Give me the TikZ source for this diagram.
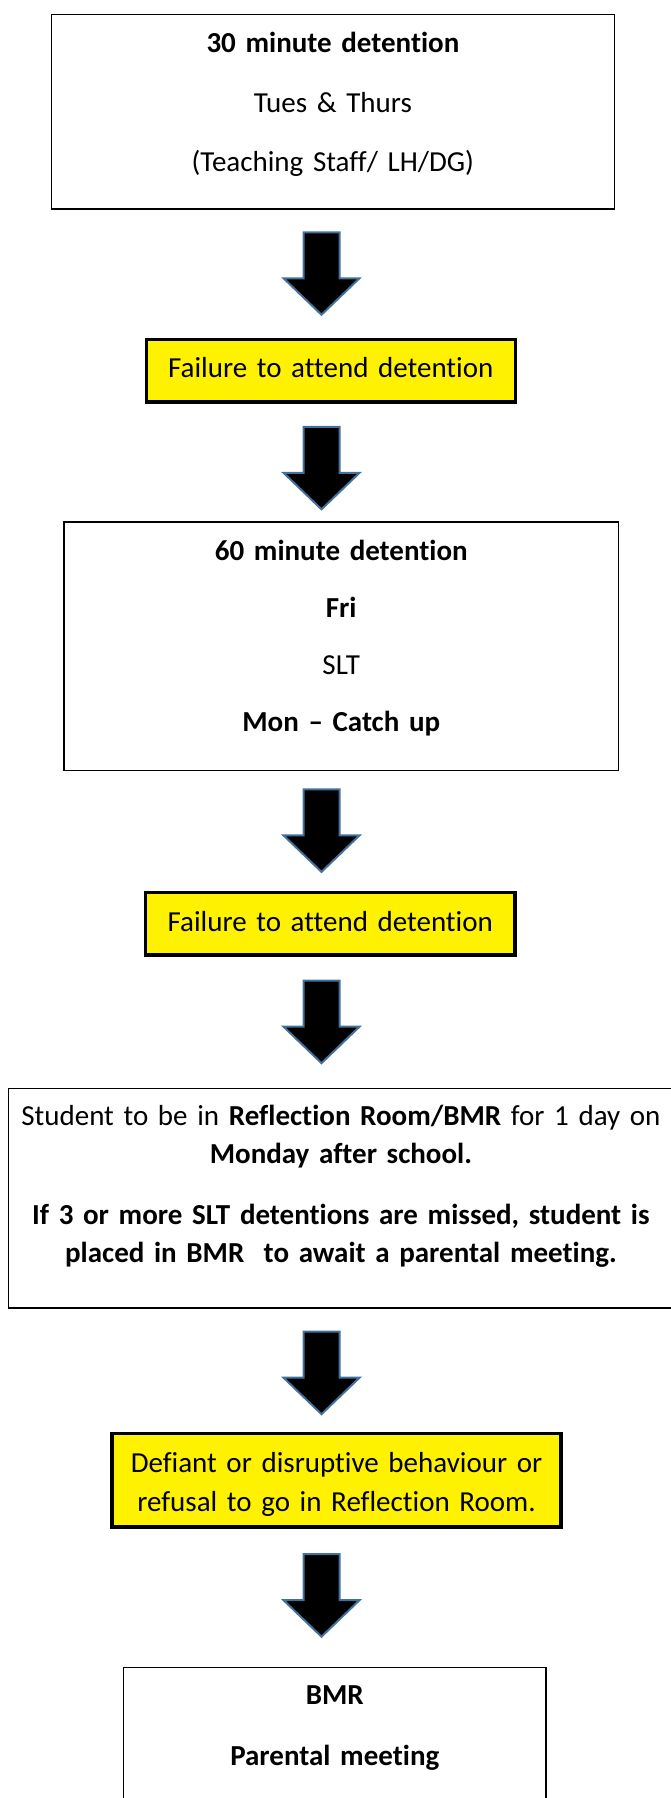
\documentclass[tikz,border=0pt]{standalone}
\usepackage{fontspec}
\setmainfont{Carlito}[Ligatures=CommonOff]
\usepackage{tikz}
\usetikzlibrary{calc}
\usepackage{xcolor}

\definecolor{arrowblue}{RGB}{65,113,156}
\newcommand{\stepfont}{\fontsize{29}{38.3}\selectfont}

\tikzset{
  stagebox/.style={draw, line width=1.5pt, inner sep=0pt, align=center, font=\stepfont, text height=0pt},
  failbox/.style={draw, line width=3.4pt, fill=yellow, inner sep=0pt, align=center, font=\stepfont,
    minimum height=62.7pt, text width=360pt},
  pics/downarrow/.style={code={
    \draw[draw=arrowblue, line width=2pt, fill=black]
      (-18,-41.5) -- (18,-41.5) -- (18,4.5) -- (38,4.5) -- (0,41) -- (-38,4.5) -- (-18,4.5) -- cycle;
  }}
}

\begin{document}
\begin{tikzpicture}[x=1pt, y=-1pt]
      \useasboundingbox (0,0) rectangle (671,1798);

      % Stage 1: 30 minute detention
      \node[stagebox, minimum width=563.3pt, minimum height=194.9pt, text width=500pt, text depth=117.8pt]
        (det30) at (332.9,111.8)
        {\textbf{30 minute detention}\\[21.2pt] Tues \& Thurs\\[21.2pt] (Teaching Staff/ LH/DG)};

      \node[failbox, minimum width=368.9pt, text height=14.7pt, text depth=0pt]
        (miss1) at (330.75,370.55) {Failure to attend detention};

      % Stage 2: 60 minute detention
      \node[stagebox, minimum width=554.4pt, minimum height=248.5pt, text width=500pt, text depth=172pt]
        (det60) at (341.25,646)
        {\textbf{60 minute detention}\\[18.7pt] \textbf{Fri}\\[18.7pt] SLT\\[18.7pt] \textbf{Mon -- Catch up}};

      \node[failbox, minimum width=369.1pt, text height=14.5pt, text depth=0pt]
        (miss2) at (330.25,923.75) {Failure to attend detention};

      % Stage 3: reflection room
      \node[stagebox, minimum width=665.3pt, minimum height=219.5pt, text width=655pt, text depth=145pt]
        (reflect) at (340.9,1198)
        {Student to be in \textbf{Reflection Room/BMR} for 1 day on\\ \textbf{Monday after school.}\\[22pt]
         \textbf{If 3 or more SLT detentions are missed, student is}\\ \textbf{placed in BMR\ \ to await a parental meeting.}};

      \node[failbox, minimum width=448.9pt, minimum height=93.6pt, text width=440pt, text height=0pt, text depth=15pt]
        (defiant) at (336.55,1480.3)
        {Defiant or disruptive behaviour or\\ refusal to go in Reflection Room.};

      % Stage 4: parental meeting
      \node[stagebox, minimum width=422.5pt, minimum height=192pt, text width=400pt, text depth=118.5pt]
        (parental) at (334.8,1763.25)
        {\textbf{BMR}\\[23.5pt] \textbf{Parental meeting}};

      % block arrows between the stages
      \coordinate (spine) at (321.5,0);
      \coordinate (m1) at ($(det30.south)!0.5!(miss1.north)$);
      \coordinate (m2) at ($(miss1.south)!0.5!(det60.north)$);
      \coordinate (m3) at ($(det60.south)!0.5!(miss2.north)$);
      \coordinate (m4) at ($(miss2.south)!0.5!(reflect.north)$);
      \coordinate (m5) at ($(reflect.south)!0.5!(defiant.north)$);
      \coordinate (m6) at ($(defiant.south)!0.5!(parental.north)$);
      \pic at (m1 -| spine) {downarrow};
      \pic[yshift=-6pt] at (m2 -| spine) {downarrow};
      \pic at (m3 -| spine) {downarrow};
      \pic at (m4 -| spine) {downarrow};
      \pic[yshift=-3pt] at (m5 -| spine) {downarrow};
      \pic[yshift=2pt] at (m6 -| spine) {downarrow};
    \end{tikzpicture}
\end{document}
